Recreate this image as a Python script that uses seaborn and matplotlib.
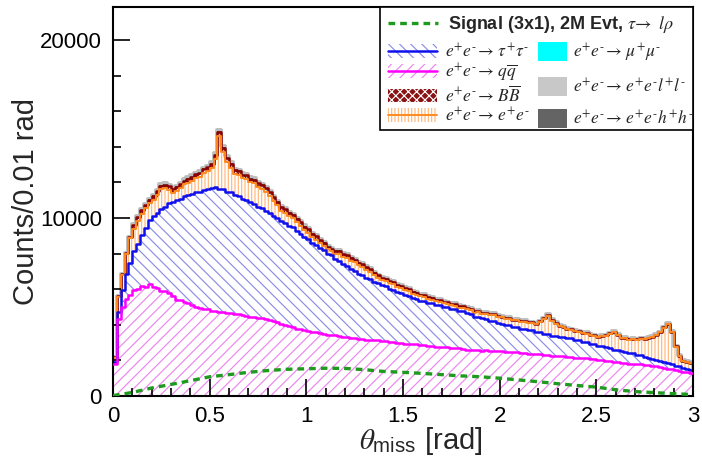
import numpy as np
import pandas as pd
import matplotlib
matplotlib.use("Agg")
import matplotlib.pyplot as plt
from matplotlib.patches import Patch, Rectangle
from matplotlib.lines import Line2D
from matplotlib.ticker import MultipleLocator, FuncFormatter
from matplotlib.colors import to_rgb
from matplotlib.font_manager import FontProperties
import seaborn as sns

# ---------------- data (counts per 0.01 rad) ----------------
# fine bins: 0.02 rad wide, 150 bins from 0 to 3 rad
x_lo, x_hi, n_bins = 0.0, 3.0, 150

qq = [1800, 4300, 5000, 5450, 5650, 5950, 6000, 6180, 6150, 6280,
      6120, 6080, 5920, 5900, 5780, 5620, 5400, 5380, 5280, 5220,
      5110, 5000, 4950, 4880, 4870, 4760, 4790, 4720, 4720, 4660,
      4660, 4600, 4600, 4530, 4520, 4460, 4450, 4390, 4390, 4320,
      4290, 4190, 4160, 4060, 4010, 3940, 3890, 3790, 3760, 3690,
      3660, 3590, 3580, 3520, 3510, 3450, 3440, 3400, 3390, 3340,
      3330, 3270, 3260, 3220, 3210, 3160, 3170, 3140, 3150, 3100,
      3070, 3030, 3010, 2970, 2970, 2930, 2940, 2900, 2900, 2860,
      2860, 2820, 2820, 2780, 2780, 2740, 2750, 2710, 2710, 2670,
      2660, 2610, 2600, 2570, 2580, 2550, 2560, 2530, 2540, 2500,
      2500, 2480, 2490, 2450, 2450, 2410, 2410, 2380, 2380, 2340,
      2340, 2300, 2310, 2270, 2270, 2230, 2230, 2190, 2190, 2160,
      2160, 2120, 2130, 2090, 2070, 2030, 2020, 1980, 1970, 1920,
      1910, 1860, 1850, 1810, 1810, 1770, 1770, 1740, 1740, 1690,
      1670, 1620, 1590, 1530, 1510, 1450, 1430, 1370, 1340, 1280]

tautau = [100, 420, 930, 1380, 1830, 2180, 2530, 2850, 3270, 3590,
          3990, 4200, 4610, 4690, 5040, 5260, 5620, 5700, 5950, 6060,
          6250, 6460, 6530, 6700, 6730, 6920, 6950, 6900, 6880, 6790,
          6780, 6700, 6640, 6560, 6500, 6420, 6350, 6230, 6150, 6080,
          6010, 5900, 5850, 5760, 5730, 5610, 5590, 5480, 5360, 5240,
          5160, 5030, 4920, 4770, 4690, 4540, 4460, 4320, 4210, 4050,
          3970, 3850, 3760, 3630, 3570, 3470, 3400, 3280, 3190, 3110,
          3090, 3000, 2960, 2870, 2810, 2730, 2680, 2600, 2570, 2500,
          2470, 2420, 2400, 2350, 2340, 2280, 2250, 2190, 2180, 2130,
          2090, 2030, 1980, 1890, 1870, 1810, 1780, 1710, 1680, 1610,
          1570, 1500, 1490, 1430, 1420, 1370, 1370, 1320, 1320, 1260,
          1230, 1180, 1160, 1120, 1120, 1080, 1080, 1040, 1040, 990,
          960, 920, 900, 850, 850, 800, 800, 750, 740, 690,
          680, 640, 630, 590, 580, 530, 510, 450, 420, 380,
          360, 330, 320, 300, 280, 260, 240, 220, 200, 180]

ee = [220, 820, 870, 1120, 1370, 1270, 1320, 1220, 1120, 970,
      920, 1020, 1070, 1070, 740, 550, 500, 600, 650, 700,
      730, 760, 840, 940, 1020, 1130, 1590, 2990, 2110, 1710,
      1380, 1180, 1180, 1130, 1150, 1120, 1140, 1120, 1100, 1050,
      950, 860, 700, 580, 560, 540, 510, 490, 440, 390,
      360, 310, 280, 290, 230, 240, 220, 280, 400, 410,
      460, 490, 490, 490, 480, 460, 410, 360, 290, 280,
      300, 290, 310, 300, 300, 290, 270, 250, 230, 230,
      230, 210, 200, 180, 160, 180, 180, 190, 180, 170,
      220, 230, 230, 230, 250, 260, 280, 310, 320, 320,
      350, 360, 350, 370, 380, 390, 400, 410, 410, 440,
      590, 850, 1050, 840, 680, 610, 560, 520, 490, 480,
      500, 500, 480, 470, 470, 490, 560, 660, 790, 970,
      830, 740, 750, 770, 810, 870, 940, 1020, 1110, 1240,
      1410, 1620, 1930, 2220, 1800, 1070, 580, 390, 360, 380]

# small backgrounds, read at a coarser 0.1 rad resolution
bb_coarse = [60, 180, 210, 220, 230, 230, 220, 210, 200, 190,
             180, 160, 150, 140, 120, 100, 90, 75, 60, 50,
             40, 30, 25, 20, 15, 12, 10, 10, 8, 8]
mumu_coarse = [5, 10, 10, 12, 12, 12, 12, 10, 10, 10,
               10, 10, 8, 8, 8, 8, 8, 8, 6, 6,
               6, 6, 6, 6, 5, 5, 5, 5, 5, 4]
eell_coarse = [10, 30, 40, 45, 45, 45, 45, 40, 40, 40,
               35, 35, 35, 30, 30, 30, 30, 30, 25, 25,
               25, 25, 25, 25, 25, 25, 30, 30, 25, 20]
eehh_coarse = [5, 15, 20, 20, 20, 20, 20, 20, 18, 18,
               18, 16, 16, 15, 15, 15, 15, 14, 14, 14,
               12, 12, 12, 12, 12, 12, 12, 12, 10, 10]

# signal (not stacked)
sig_x = [0.0, 0.1, 0.2, 0.3, 0.4, 0.5, 0.6, 0.7, 0.8, 0.9, 1.0,
         1.1, 1.2, 1.3, 1.4, 1.5, 1.6, 1.7, 1.8, 1.9, 2.0,
         2.1, 2.2, 2.3, 2.4, 2.5, 2.6, 2.7, 2.8, 2.9, 3.0]
sig_y = [20, 200, 450, 650, 860, 1080, 1200, 1330, 1430, 1500, 1530,
         1560, 1550, 1480, 1380, 1330, 1270, 1200, 1130, 1080, 1000,
         900, 800, 690, 590, 500, 350, 250, 190, 130, 80]

M = r"^{\text{-}}"
A = r"\!\rightarrow\,"
labels = {
    "tautau": r"$e^{+}e" + M + A + r"\tau^{+}\tau" + M + "$",
    "qq": r"$e^{+}e" + M + A + r"q\overline{q}$",
    "BB": r"$e^{+}e" + M + A + r"B\overline{B}$",
    "ee": r"$e^{+}e" + M + A + r"e^{+}e" + M + "$",
    "mumu": r"$e^{+}e" + M + A + r"\mu^{+}\mu" + M + "$",
    "eell": r"$e^{+}e" + M + A + r"e^{+}e" + M + r"l^{+}l" + M + "$",
    "eehh": r"$e^{+}e" + M + A + r"e^{+}e" + M + r"h^{+}h" + M + "$",
}
signal_label = r"Signal (3x1), 2M Evt, $\tau\!\rightarrow\ l\rho$"

# ---------------- styling ----------------
sns.set_style("ticks")
plt.rcParams["font.family"] = ["Liberation Sans", "DejaVu Sans"]
plt.rcParams["mathtext.fontset"] = "stix"
plt.rcParams["hatch.linewidth"] = 0.85

hatch_col = {"qq": "#ee86ee", "tautau": "#8c8ce8", "ee": "#ffb77a", "BB": "#8b1212",
             "mumu": "#00ffff", "eell": "#c8c8c8", "eehh": "#646464"}
line_col = {"qq": "#ff00ff", "tautau": "#1010ee", "ee": "#ff8a1f", "BB": "#8b0000",
            "mumu": "#00e5e5", "eell": "#bdbdbd", "eehh": "#505050"}
hatch_pat = {"qq": "///", "tautau": "\\\\\\", "ee": "|||||", "BB": "xxxx"}
line_w = {"qq": 1.8, "tautau": 1.8, "ee": 1.4, "BB": 1.8, "mumu": 0.6, "eell": 2.8, "eehh": 0.6}
# lower components are drawn over the upper ones (as a stack drawn from the top down)
line_z = {"eell": 2.0, "eehh": 2.1, "mumu": 2.2, "BB": 2.3, "ee": 2.4, "tautau": 2.5, "qq": 2.6}

edges = np.linspace(x_lo, x_hi, n_bins + 1).tolist()
centers = [0.5 * (a + b) for a, b in zip(edges[:-1], edges[1:])]
procs = {
    "qq": np.asarray(qq, float),
    "tautau": np.asarray(tautau, float),
    "ee": np.asarray(ee, float),
    "BB": np.repeat(bb_coarse, 5).astype(float),
    "mumu": np.repeat(mumu_coarse, 5).astype(float),
    "eehh": np.repeat(eehh_coarse, 5).astype(float),
    "eell": np.repeat(eell_coarse, 5).astype(float),
}
df = pd.concat([pd.DataFrame({"x": centers, "w": v, "proc": k}) for k, v in procs.items()],
               ignore_index=True)
hue_order = ["eell", "eehh", "mumu", "BB", "ee", "tautau", "qq"]  # top -> bottom

fig = plt.figure(figsize=(7.02, 4.66), dpi=100)
ax = fig.add_axes([113 / 702, 70 / 466, 580 / 702, 389 / 466])


def nearest(c, table):
    rgb = np.array(to_rgb(c))
    return min(table, key=lambda k: np.sum((np.array(to_rgb(table[k])) - rgb) ** 2))


# hatched / filled stack
n0 = len(ax.collections)
sns.histplot(data=df, x="x", weights="w", hue="proc", hue_order=hue_order, bins=edges,
             multiple="stack", element="step", fill=True, palette=hatch_col,
             legend=False, ax=ax, linewidth=0)
for coll in ax.collections[n0:]:
    name = nearest(coll.get_facecolor()[0][:3], hatch_col)
    coll.set_alpha(1)
    coll.set_linewidth(0)
    coll.set_zorder(1)
    if name in ("qq", "tautau", "ee"):
        coll.set_facecolor("none")
        coll.set_edgecolor(hatch_col[name])
        coll.set_hatch(hatch_pat[name])
    elif name == "BB":
        coll.set_facecolor(hatch_col[name])
        coll.set_edgecolor("white")
        coll.set_hatch(hatch_pat[name])
    else:
        coll.set_facecolor(hatch_col[name])
        coll.set_edgecolor(hatch_col[name])

# outlines of the stack
n1 = len(ax.lines)
sns.histplot(data=df, x="x", weights="w", hue="proc", hue_order=hue_order, bins=edges,
             multiple="stack", element="step", fill=False, palette=line_col,
             legend=False, ax=ax, linewidth=1.5)
for ln in ax.lines[n1:]:
    name = nearest(ln.get_color(), line_col)
    ln.set_linewidth(line_w[name])
    ln.set_zorder(line_z[name])
    ln.set_alpha(1)

# signal
sig_color = "#1e9a1e"
sns.lineplot(x=sig_x, y=sig_y, ax=ax, color=sig_color, linewidth=2.4,
             linestyle=(0, (2.0, 1.5)), zorder=5)

# ---------------- axes ----------------
ax.set_xlim(0, 3)
ax.set_ylim(0, 21850)
ax.xaxis.set_major_locator(MultipleLocator(0.5))
ax.xaxis.set_minor_locator(MultipleLocator(0.1))
ax.yaxis.set_major_locator(MultipleLocator(10000))
ax.yaxis.set_minor_locator(MultipleLocator(2000))
fmt = FuncFormatter(lambda v, p: "%g" % v)
ax.xaxis.set_major_formatter(fmt)
ax.yaxis.set_major_formatter(fmt)
ax.tick_params(which="both", direction="in", top=False, right=False, width=1.2, colors="black")
ax.tick_params(which="major", length=12, labelsize=16)
ax.tick_params(which="minor", length=6)
ax.tick_params(axis="y", which="major", pad=8)
ax.tick_params(axis="x", which="major", pad=7)
for s in ax.spines.values():
    s.set_linewidth(1.5)
    s.set_color("black")
    s.set_visible(True)
ax.set_axisbelow(False)

ax.set_xlabel(r"$\theta_{\mathregular{miss}}$ [rad]", fontsize=21)
ax.set_ylabel("Counts/0.01 rad", fontsize=21)
ax.xaxis.set_label_coords(0.53, -0.075)
ax.yaxis.set_label_coords(-0.125, 0.5)

# ---------------- legend ----------------
box = Rectangle((0.460, 0.684), 0.540, 0.316, transform=ax.transAxes, facecolor="white",
                edgecolor="black", linewidth=1.2, zorder=6, clip_on=False)
ax.add_patch(box)

sig_handle = Line2D([], [], color=sig_color, lw=2.4, linestyle=(0, (2.0, 1.5)))
leg1 = ax.legend([sig_handle], [signal_label], loc="center left", bbox_to_anchor=(0.474, 0.954),
                 frameon=False, handlelength=2.8, handletextpad=0.55, borderpad=0,
                 borderaxespad=0, prop=FontProperties(family="Liberation Sans", weight="bold", size=13))
leg1.set_zorder(7)
ax.add_artist(leg1)


def hatch_handle(name):
    if name == "BB":
        return Patch(facecolor=hatch_col[name], edgecolor="white", hatch=hatch_pat[name], lw=0)
    return (Patch(facecolor="white", edgecolor=hatch_col[name], hatch=hatch_pat[name], lw=0),
            Line2D([], [], color=line_col[name], lw=line_w[name]))


left = ["tautau", "qq", "BB", "ee"]
leg2 = ax.legend([hatch_handle(n) for n in left], [labels[n] for n in left], loc="center left",
                 bbox_to_anchor=(0.474, 0.805), frameon=False, handlelength=2.8, handleheight=0.8,
                 handletextpad=0.5, labelspacing=0.05, borderpad=0, borderaxespad=0,
                 prop=FontProperties(size=12.5))
leg2.set_zorder(7)
ax.add_artist(leg2)

right = ["mumu", "eell", "eehh"]
leg3 = ax.legend([Patch(facecolor=hatch_col[n], edgecolor="none") for n in right],
                 [labels[n] for n in right], loc="center left", bbox_to_anchor=(0.733, 0.80),
                 frameon=False, handlelength=1.65, handleheight=1.3, handletextpad=0.35,
                 labelspacing=0.75, borderpad=0, borderaxespad=0, prop=FontProperties(size=12.5))
leg3.set_zorder(7)

fig.savefig("out.png", dpi=100)
